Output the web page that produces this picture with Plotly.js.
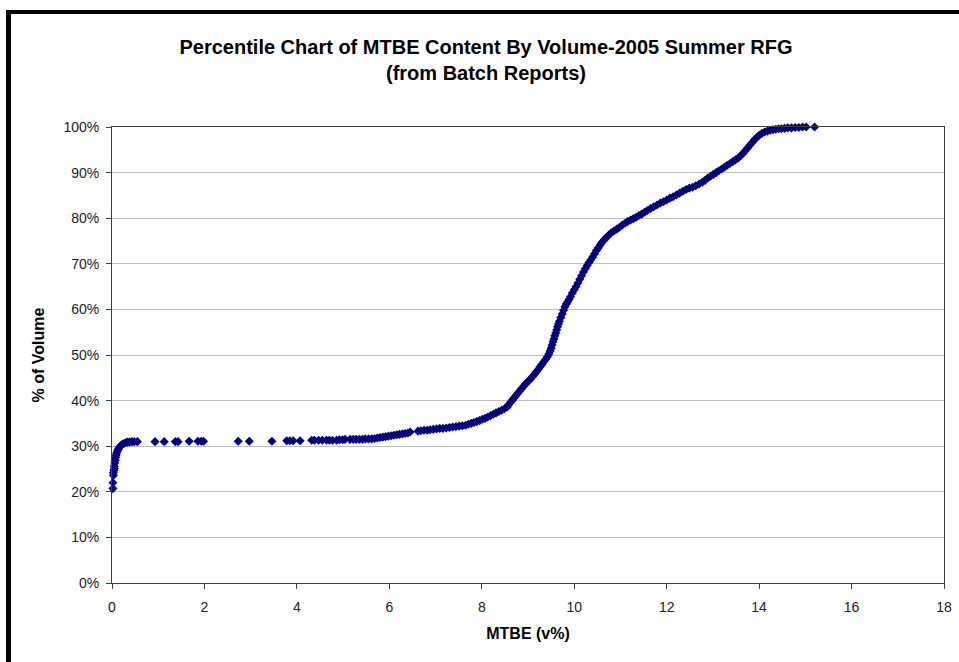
<!DOCTYPE html>
<html>
<head>
<meta charset="utf-8">
<script src="https://cdn.plot.ly/plotly-3.0.1.min.js"></script>
<style>html,body{margin:0;padding:0;background:#fff;}#chart{width:959px;height:662px;}</style>
</head>
<body>
<div id="chart"></div>
<script>
// MTBE content (v%), ordered by cumulative % of volume
const mtbeNearZero = [0.02,0.02,0.03,0.03,0.04,0.05,0.05,0.06,0.07,0.08,0.09,0.10,0.12,0.14,0.16,0.19,0.22,0.26,0.30,0.34,0.38,0.43,0.48,0.55];
const pctNearZero  = [20.7,22.0,23.6,24.2,24.7,25.1,25.6,26.3,26.9,27.5,28.0,28.5,29.0,29.4,29.8,30.1,30.4,30.6,30.8,30.9,30.9,31.0,31.0,31.0];

const mtbeFlat = [0.93,1.13,1.37,1.43,1.67,1.86,1.93,1.98,2.73,2.97,3.46,3.78,3.85,3.92,4.07,4.32,4.38,4.47,4.55,4.64,4.70,4.77,4.86,4.92,4.99,5.04,
  5.15,5.22,5.28,5.35,5.42,5.48,5.55,5.62,5.68,5.74,5.80,5.86,5.92,5.98,6.04,6.10,6.16,6.22,6.28,6.34,6.40,6.45];
const pctFlat  = [31.0,31.0,31.0,31.0,31.1,31.1,31.1,31.1,31.1,31.1,31.1,31.2,31.2,31.2,31.2,31.3,31.3,31.3,31.3,31.3,31.3,31.3,31.3,31.4,31.4,31.5,
  31.5,31.5,31.5,31.5,31.5,31.6,31.6,31.6,31.7,31.8,31.9,32.0,32.1,32.2,32.3,32.4,32.5,32.6,32.7,32.8,32.9,33.1];

const mtbeRise = [6.62,6.68,6.75,6.82,6.88,6.95,7.02,7.09,7.16,7.23,7.30,7.37,7.44,7.51,7.58,7.65,7.71,7.77,7.83,7.89,7.95,8.01,8.07,8.13,8.19,8.25,8.31,8.37,8.43,8.49,8.55];
const pctRise  = [33.3,33.4,33.5,33.5,33.6,33.7,33.8,33.9,33.9,34.0,34.1,34.2,34.3,34.4,34.5,34.6,34.8,35.0,35.2,35.4,35.6,35.9,36.1,36.4,36.7,37.0,37.3,37.6,37.9,38.2,38.6];

const mtbeSteep = [8.58,8.62,8.66,8.70,8.74,8.78,8.82,8.86,8.90,8.94,8.98,9.02,9.06,9.10,9.14,9.18,9.22,9.26,9.30,9.34,9.38,9.42,9.45,9.48,9.50,9.52,9.54,9.56,9.58,9.60,9.62,9.64,9.66,9.68,
  9.71,9.74,9.77,9.80,9.83,9.86,9.89,9.92,9.96,10.00,10.04,10.08,10.12];
const pctSteep  = [39.1,39.6,40.1,40.6,41.1,41.6,42.1,42.6,43.1,43.6,44.0,44.4,44.8,45.3,45.8,46.3,46.8,47.4,47.9,48.5,49.0,49.6,50.2,50.9,51.5,52.2,52.9,53.5,54.2,54.8,55.5,56.2,56.8,57.4,
  58.2,59.0,59.8,60.6,61.2,61.7,62.2,62.8,63.6,64.3,65.0,65.8,66.6];

const mtbeUpper = [10.16,10.20,10.24,10.28,10.32,10.36,10.40,10.44,10.48,10.52,10.56,10.60,10.65,10.70,10.75,10.80,10.86,10.92,10.98,11.04,11.10,11.16,11.22,11.28,11.34,11.40,11.46,11.52,11.58,11.65,
  11.72,11.79,11.86,11.93,12.00,12.07,12.14,12.21,12.28,12.35,12.42,12.49,12.56,12.63,12.70,12.77,12.83,12.89,12.95,13.01,13.07,13.13,13.19,13.25,13.31,13.37,13.43,13.49,13.55,
  13.60,13.65,13.70,13.75,13.80,13.85,13.90,13.95,14.00,14.06,14.12,14.18,14.24,14.30,14.36,14.42,14.48,14.55,14.62,14.70,14.78,14.86,14.94,15.02,15.20];
const pctUpper  = [67.4,68.2,68.9,69.6,70.3,70.9,71.5,72.2,72.9,73.5,74.1,74.7,75.3,75.8,76.3,76.8,77.2,77.6,78.0,78.5,78.9,79.3,79.6,79.9,80.2,80.6,80.9,81.3,81.7,82.1,
  82.5,82.9,83.3,83.6,84.0,84.4,84.7,85.1,85.5,85.9,86.3,86.6,86.8,87.1,87.5,87.9,88.3,88.8,89.2,89.6,90.0,90.4,90.8,91.2,91.6,92.0,92.4,92.8,93.2,
  93.7,94.2,94.8,95.4,96.0,96.6,97.2,97.7,98.2,98.6,98.9,99.1,99.3,99.4,99.5,99.6,99.6,99.7,99.8,99.8,99.9,99.9,100,100,100];

const mtbe = [].concat(mtbeNearZero, mtbeFlat, mtbeRise, mtbeSteep, mtbeUpper);
const pctVolume = [].concat(pctNearZero, pctFlat, pctRise, pctSteep, pctUpper);

const titleText = 'Percentile Chart of MTBE Content By Volume-2005 Summer RFG<br>(from Batch Reports)';
const xTitle = 'MTBE (v%)';
const yTitle = '% of Volume';

const W = 959, H = 662;
const L = 112, R = 15, T = 127, B = 79;
const pw = W - L - R, ph = H - T - B;
const px = v => (v - L) / pw;
const py = v => (H - B - v) / ph;

const font = 'Liberation Sans, Arial, sans-serif';

const trace = {
  x: mtbe, y: pctVolume, type: 'scatter', mode: 'markers',
  marker: {symbol: 'diamond', size: 7, color: '#000080', line: {width: 0}},
  cliponaxis: false, hoverinfo: 'x+y'
};

const layout = {
  width: W, height: H,
  margin: {l: L, r: R, t: T, b: B, pad: 0},
  paper_bgcolor: '#ffffff', plot_bgcolor: '#ffffff',
  showlegend: false,
  font: {family: font, color: '#222', size: 14},
  title: {text: titleText, x: 486 / W, xanchor: 'center', xref: 'container', y: 1 - 54/662, yanchor: 'middle', yref: 'container',
    font: {family: font, size: 20, color: '#000', weight: 'bold'}},
  xaxis: {range: [0, 18], dtick: 2, tick0: 0, ticks: 'outside', ticklen: 5, tickcolor: '#404040', tickwidth: 1,
    showline: true, linecolor: '#404040', linewidth: 1, mirror: true, showgrid: false, zeroline: false,
    ticklabelstandoff: 6, automargin: false,
    tickfont: {family: font, size: 14, color: '#222'},
    title: {text: xTitle, standoff: 14, font: {family: font, size: 16, color: '#000', weight: 'bold'}}},
  yaxis: {range: [0, 100], dtick: 10, tick0: 0, ticksuffix: '%', ticks: 'outside', ticklen: 5, tickcolor: '#404040', tickwidth: 1,
    showline: true, linecolor: '#404040', linewidth: 1, mirror: true, showgrid: true, gridcolor: '#c0c0c0', gridwidth: 1, zeroline: false,
    ticklabelstandoff: 4, automargin: false,
    tickfont: {family: font, size: 14, color: '#222'},
    title: {text: yTitle, standoff: 14, font: {family: font, size: 16, color: '#000', weight: 'bold'}}},
  shapes: [
    {type: 'rect', xref: 'paper', yref: 'paper', x0: px(6), x1: px(970), y0: py(14), y1: py(10), fillcolor: '#000', line: {width: 0}, layer: 'above'},
    {type: 'rect', xref: 'paper', yref: 'paper', x0: px(6), x1: px(11), y0: py(680), y1: py(10), fillcolor: '#000', line: {width: 0}, layer: 'above'}
  ]
};

Plotly.newPlot('chart', [trace], layout, {displayModeBar: false, staticPlot: true});
</script>
</body>
</html>
